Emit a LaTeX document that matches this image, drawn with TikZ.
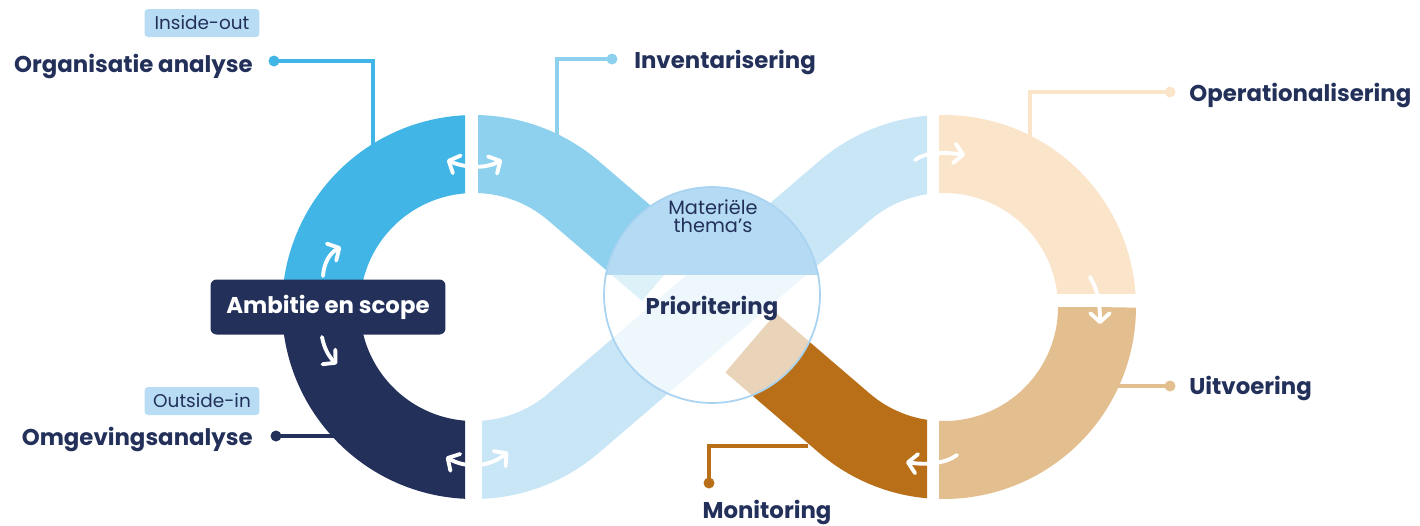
\documentclass[tikz,border=0pt]{standalone}
\usepackage{fontspec}
\setmainfont{Poppins}
\usetikzlibrary{arrows.meta}

\definecolor{navy}{HTML}{22305A}
\definecolor{ringblue}{HTML}{41B6E6}
\definecolor{midblue}{HTML}{8ED1EE}
\definecolor{paleblue}{HTML}{C8E6F6}
\definecolor{tagblue}{HTML}{B7DCF4}
\definecolor{capblue}{HTML}{B5DBF4}
\definecolor{rimblue}{HTML}{A9D3F0}
\definecolor{peach}{HTML}{FAE5CB}
\definecolor{sand}{HTML}{E3BF8F}
\definecolor{rust}{HTML}{B86F18}

\tikzset{
  barb/.tip={Straight Barb[length=5pt, width=11pt, line width=2.2pt, round]},
  band/.style={line width=1.56cm},
  loop arrow/.style={white, line width=2.2pt, line cap=round, -barb},
  swap arrow/.style={white, line width=2.2pt, line cap=round, barb-barb},
  pin dot/.style={circle, fill=#1, minimum size=0.22cm, inner sep=0pt},
  leader/.style={line width=2.2pt, draw=#1},
  label text/.style={text=navy, inner sep=0pt, font=\fontsize{13}{15}\selectfont\bfseries},
  tag/.style={fill=tagblue, rounded corners=2pt, text=navy, inner sep=0pt,
    minimum width=2.3cm, minimum height=0.56cm, font=\fontsize{10.5}{12}\selectfont},
  scope box/.style={fill=navy, text=white, rounded corners=0.12cm, inner sep=0pt,
    minimum width=4.7cm, minimum height=1.1cm, font=\fontsize{13}{15}\selectfont\bfseries},
}

\begin{document}
\begin{tikzpicture}[x=0.02cm, y=-0.02cm]
\useasboundingbox (0,0) rectangle (1420,525);

% ring centres and the crossing point
\coordinate (lc) at (474,307);
\coordinate (rc) at (944,307);
\coordinate (mid) at (709,307);

% leader lines (drawn first, the rings cover their ends)
\node[pin dot=ringblue] (org dot) at (274,61) {};
\coordinate (org end) at (373,150);
\draw[leader=ringblue] (org dot.center) -| (org end);

\node[pin dot=midblue] (inv dot) at (612,59) {};
\coordinate (inv end) at (557,138);
\draw[leader=midblue] (inv dot.center) -| (inv end);

\node[pin dot=peach] (oper dot) at (1170,92) {};
\coordinate (oper end) at (1030,142);
\draw[leader=peach] (oper dot.center) -| (oper end);

\node[pin dot=sand] (uitv dot) at (1170,386) {};
\coordinate (uitv end) at (1110,386);
\draw[leader=sand] (uitv dot.center) -- (uitv end);

\node[pin dot=rust] (mon dot) at (709,483) {};
\coordinate (mon end) at (808,446);
\draw[leader=rust] (mon dot.center) |- (mon end);

\node[pin dot=navy] (omg dot) at (276,436) {};
\coordinate (omg end) at (345,436);
\draw[leader=navy] (omg dot.center) -- (omg end);

% left ring
\begin{scope}
  \clip (270,100) rectangle (465,320);
  \draw[band, ringblue] (lc) ++(180:153) arc[start angle=180, end angle=275, radius=153];
\end{scope}
\begin{scope}
  \clip (270,300) rectangle (465,510);
  \draw[band, navy] (lc) ++(90:153) arc[start angle=90, end angle=180, radius=153];
\end{scope}

% right ring
\begin{scope}
  \clip (939,100) rectangle (1150,293);
  \draw[band, peach] (rc) ++(265:153) arc[start angle=265, end angle=360, radius=153];
\end{scope}
\begin{scope}
  \clip (939,307) rectangle (1150,510);
  \draw[band, sand] (rc) ++(0:153) arc[start angle=0, end angle=95, radius=153];
\end{scope}

% crossing bands
\begin{scope}
  \clip (478,100) rectangle (720,320);
  \draw[band, midblue] (lc) ++(-92:153) arc[start angle=-92, end angle=-49.4, radius=153]
    -- (667.3,271.2);
\end{scope}
\begin{scope}
  \clip (482,100) rectangle (927,510);
  \draw[band, paleblue] (lc) ++(92:153) arc[start angle=92, end angle=49.4, radius=153]
    -- (844.4,190.8) arc[start angle=229.4, end angle=272, radius=153];
\end{scope}
\begin{scope}
  \clip (700,300) rectangle (927,510);
  \draw[band, rust] (750.7,342.8) -- (844.4,423.2)
    arc[start angle=130.6, end angle=88, radius=153];
\end{scope}

% centre disc
\begin{scope}
  \clip (712,295) circle[radius=108];
  \fill[white, opacity=0.7] (600,275) rectangle (825,410);
  \fill[capblue] (600,180) rectangle (825,275);
\end{scope}
\node[circle, draw=rimblue, line width=1pt, minimum size=4.32cm] (prio disc) at (712,295) {};
\node[text=navy, align=center, inner sep=0pt, font=\fontsize{11}{10.2}\selectfont,
  anchor=base] (themes) at (713,232) {Materiële\\thema’s};
\node[label text, anchor=base] (prio) at (712,314) {Prioritering};

% ambition box
\node[scope box] (ambitie) at (328,307) {Ambitie en scope};

% flow arrows
\draw[swap arrow] (447,160) .. controls (465,168) and (485,169) .. (502,160);
\draw[swap arrow] (446,457) .. controls (465,468) and (488,468) .. (508,452);
\draw[loop arrow] (323,276) .. controls (324,262) and (330,253) .. (341,247);
\draw[loop arrow] (322,337) .. controls (324,348) and (329,357) .. (337,364);
\draw[loop arrow] (915,160) .. controls (925,152) and (945,152) .. (965,155);
\draw[loop arrow] (1090,277) .. controls (1098,290) and (1100,305) .. (1100,324);
\draw[loop arrow] (957,455) .. controls (945,464) and (925,465) .. (906,462);

% stage labels
\node[label text, anchor=base east] (org label) at (253,72) {Organisatie analyse};
\node[tag] (inside tag) at (202,23) {Inside-out};
\node[label text, anchor=base west] (inv label) at (634,68) {Inventarisering};
\node[label text, anchor=base west] (oper label) at (1189,101) {Operationalisering};
\node[label text, anchor=base west] (uitv label) at (1189,394) {Uitvoering};
\node[label text, anchor=base] (mon label) at (767,518) {Monitoring};
\node[label text, anchor=base east] (omg label) at (253,445) {Omgevingsanalyse};
\node[tag] (outside tag) at (202,401) {Outside-in};
\end{tikzpicture}
\end{document}
